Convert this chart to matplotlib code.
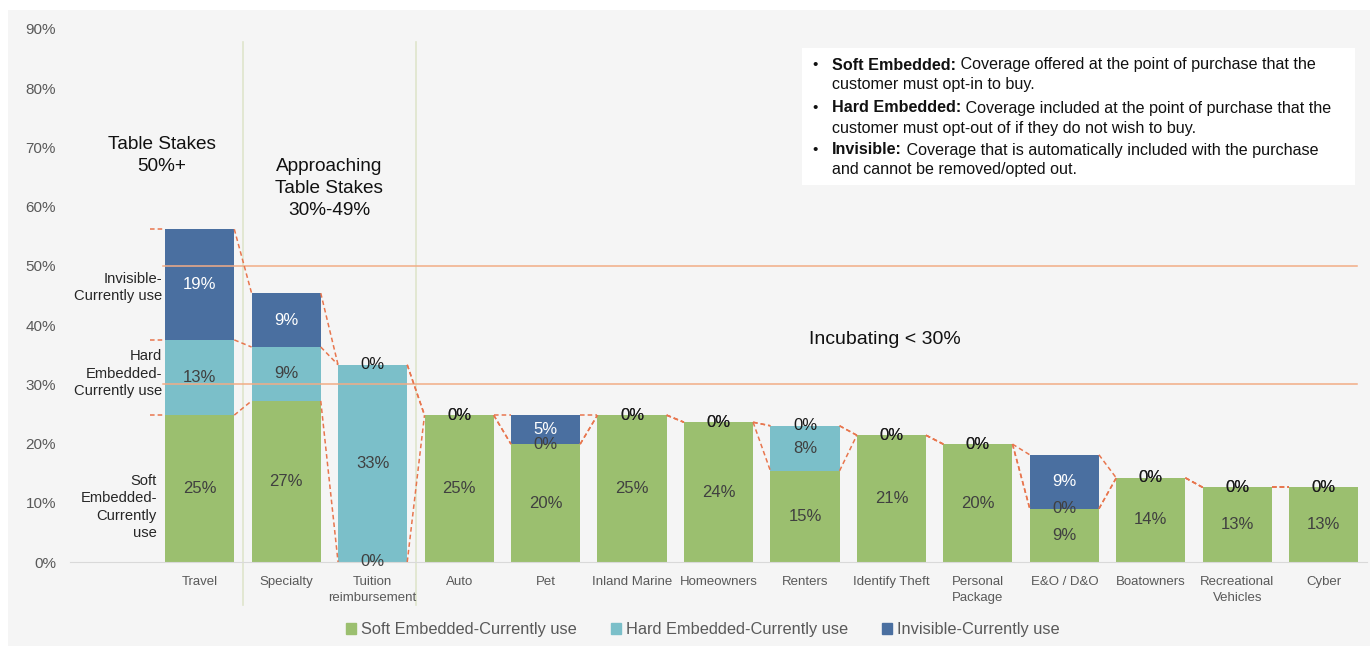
import matplotlib.pyplot as plt
import numpy as np
from matplotlib.patches import Rectangle, Patch

# categories and stacked shares
categories = ["Travel", "Specialty", "Tuition\nreimbursement", "Auto", "Pet",
              "Inland Marine", "Homeowners", "Renters", "Identify Theft",
              "Personal\nPackage", "E&O / D&O", "Boatowners",
              "Recreational\nVehicles", "Cyber"]
soft = [0.248, 0.272, 0.0, 0.248, 0.199, 0.248, 0.236, 0.154, 0.214, 0.199,
        0.090, 0.142, 0.126, 0.126]
hard = [0.127, 0.091, 0.333, 0.0, 0.0, 0.0, 0.0, 0.076, 0.0, 0.0,
        0.0, 0.0, 0.0, 0.0]
invisible = [0.187, 0.091, 0.0, 0.0, 0.049, 0.0, 0.0, 0.0, 0.0, 0.0,
             0.091, 0.0, 0.0, 0.0]
series_names = ["Soft Embedded-Currently use", "Hard Embedded-Currently use",
                "Invisible-Currently use"]
yticks = [0.0, 0.1, 0.2, 0.3, 0.4, 0.5, 0.6, 0.7, 0.8, 0.9]
thresholds = [0.3, 0.5]

GREEN = "#9bbf6f"
TEAL = "#7bbfc9"
BLUE = "#4a6fa0"
ORANGE = "#e8764e"
SANS = ["Liberation Sans", "DejaVu Sans"]

plt.rcParams["font.family"] = SANS

fig = plt.figure(figsize=(13.7, 6.46), dpi=100)
fig.patches.append(Rectangle((8 / 1370, 0), 1 - 8 / 1370, 1 - 10 / 646,
                             transform=fig.transFigure, facecolor="#f5f5f5",
                             edgecolor="none", zorder=-2))
# definitions box sits under the axes layer
fig.patches.append(Rectangle((802 / 1370, 461 / 646), 553 / 1370, 137 / 646,
                             transform=fig.transFigure, facecolor="white",
                             edgecolor="none", zorder=-1))
ax = fig.add_axes([70 / 1370, 84 / 646, 1297 / 1370, 533 / 646])
ax.set_facecolor("none")

x = np.arange(len(categories))
soft = np.array(soft)
hard = np.array(hard)
invisible = np.array(invisible)
w = 0.8

ax.bar(x, soft, w, color=GREEN, zorder=2)
ax.bar(x, hard, w, bottom=soft, color=TEAL, zorder=2)
ax.bar(x, invisible, w, bottom=soft + hard, color=BLUE, zorder=2)

# data labels
lvl1 = soft
lvl2 = soft + hard
lvl3 = soft + hard + invisible
for i in x:
    ax.text(i, soft[i] / 2, f"{round(soft[i] * 100)}%", ha="center",
            va="center", fontsize=12, color="#404040", zorder=5)
    ax.text(i, lvl1[i] + hard[i] / 2, f"{round(hard[i] * 100)}%", ha="center",
            va="center", fontsize=12, color="#404040", zorder=5)
    ax.text(i, lvl2[i] + invisible[i] / 2, f"{round(invisible[i] * 100)}%",
            ha="center", va="center", fontsize=12,
            color="white" if invisible[i] > 0 else "#1a1a1a", zorder=5)

# series lines between neighbouring columns
for lvl in (lvl1, lvl2, lvl3):
    for i in range(len(x) - 1):
        ax.plot([i + w / 2, i + 1 - w / 2], [lvl[i], lvl[i + 1]], color=ORANGE,
                lw=1.1, dashes=(3, 2), zorder=4)
    ax.plot([-0.58, -w / 2], [lvl[0], lvl[0]], color=ORANGE, lw=1.1,
            dashes=(3, 2), zorder=4)

# tier thresholds
for t in thresholds:
    ax.plot([-0.42, 13.38], [t, t], color="#f2ac86", lw=1.1, zorder=3)

# tier separators
for sx in (0.5, 2.5):
    ax.plot([sx, sx], [-0.073, 0.878], color="#dfe5cc", lw=1.2, zorder=1,
            clip_on=False)

ax.set_xlim(-1.5, 13.5)
ax.set_ylim(0, 0.9)
ax.set_xticks(x)
ax.set_xticklabels(categories, fontsize=9.5, color="#595959",
                   linespacing=1.45)
ax.set_yticks(yticks)
ax.set_yticklabels([f"{round(v * 100)}%" for v in yticks], fontsize=11,
                   color="#595959")
ax.tick_params(axis="both", length=0)
ax.tick_params(axis="y", pad=10)
ax.tick_params(axis="x", pad=10)
for s in ("top", "right", "left"):
    ax.spines[s].set_visible(False)
ax.spines["bottom"].set_color("#d9d9d9")

# tier titles
ax.text(-0.436, 0.687, "Table Stakes\n50%+", ha="center", va="center",
        fontsize=13.7, color="#111111", linespacing=1.4)
ax.text(1.495, 0.631, "Approaching\nTable Stakes\n30%-49%", ha="center",
        va="center", fontsize=13.7, color="#111111", linespacing=1.4)
ax.text(7.925, 0.375, "Incubating < 30%", ha="center", va="center",
        fontsize=14, color="#111111")

# row labels for the Travel column
ax.text(-0.436, 0.463, "Invisible-\nCurrently use", ha="right", va="center",
        fontsize=10.6, color="#262626", linespacing=1.3)
ax.text(-0.436, 0.318, "Hard\nEmbedded-\nCurrently use", ha="right",
        va="center", fontsize=10.6, color="#262626", linespacing=1.3)
ax.text(-0.494, 0.093, "Soft\nEmbedded-\nCurrently\nuse", ha="right",
        va="center", fontsize=10.6, color="#262626", linespacing=1.3)

definitions = [
    ("Soft Embedded:", " Coverage offered at the point of purchase that the",
     "customer must opt-in to buy."),
    ("Hard Embedded:", " Coverage included at the point of purchase that the",
     "customer must opt-out of if they do not wish to buy."),
    ("Invisible:", " Coverage that is automatically included with the purchase",
     "and cannot be removed/opted out."),
]
line_y = [65, 108, 150]
for (head, rest, second), py in zip(definitions, line_y):
    fy = 1 - py / 646
    fig.text(812 / 1370, fy, "\u2022", ha="left", va="center", fontsize=11,
             color="#111111")
    bold = fig.text(832 / 1370, fy, head, ha="left", va="center",
                    fontsize=11.6, fontweight="bold", color="#111111")
    ax.annotate(rest, xy=(1, 0.5), xycoords=bold, ha="left", va="center",
                fontsize=11.6, color="#111111", annotation_clip=False)
    fig.text(832 / 1370, 1 - (py + 20) / 646, second, ha="left", va="center",
             fontsize=11.6, color="#111111")

handles = [Patch(color=c) for c in (GREEN, TEAL, BLUE)]
fig.legend(handles, series_names, loc="center", bbox_to_anchor=(0.513, 0.025),
           ncol=3, frameon=False, handlelength=0.6, handleheight=0.6,
           handletextpad=0.3, columnspacing=2.1,
           prop={"size": 11.8}, labelcolor="#595959")

fig.savefig("out.png", dpi=100)
